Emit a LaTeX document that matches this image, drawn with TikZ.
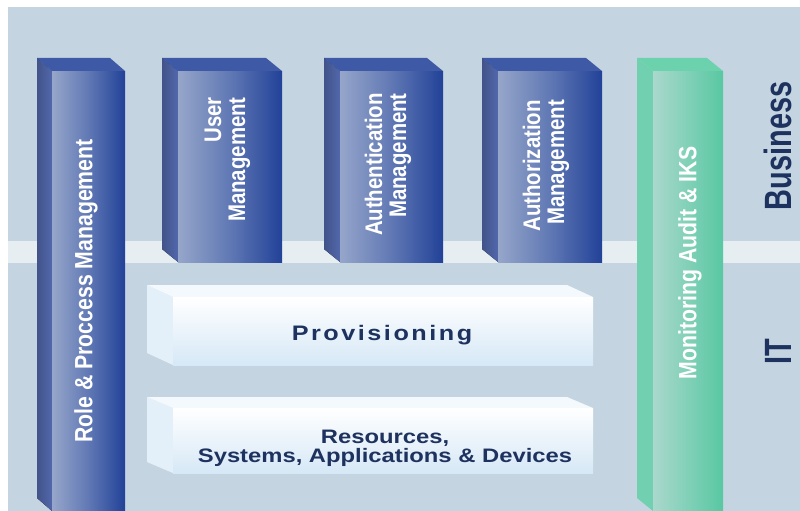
\documentclass[tikz,border=0pt]{standalone}
\usepackage{fontspec}
\setmainfont{Liberation Sans}
\newfontfamily\tallfont[FakeStretch=0.85]{Liberation Sans}
\newfontfamily\layerfont[FakeStretch=0.76]{Liberation Sans}
\newfontfamily\widefont[FakeStretch=1.22]{Liberation Sans}
\newfontfamily\spacedfont[FakeStretch=1.2,LetterSpace=12]{Liberation Sans}

\definecolor{bgblue}{RGB}{196,213,225}
\definecolor{bandwhite}{RGB}{230,238,242}
\definecolor{navy}{RGB}{30,50,95}
\definecolor{pillarlight}{RGB}{150,166,202}
\definecolor{pillarmid}{RGB}{96,120,180}
\definecolor{pillardark}{RGB}{34,66,152}
\definecolor{pillarside}{RGB}{82,104,172}
\definecolor{pillartop}{RGB}{62,90,166}
\definecolor{mintlight}{RGB}{170,216,204}
\definecolor{mintdark}{RGB}{88,200,162}
\definecolor{mintside}{RGB}{112,208,176}
\definecolor{minttop}{RGB}{108,210,174}
\definecolor{slabblue}{RGB}{214,232,246}
\definecolor{slabside}{RGB}{228,240,249}

% 3D block: front top-left (#1,#2), front bottom-right (#3,#4), depth (#5,#6), colour scheme #7
\newcommand{\drawblock}[7]{%
    \fill[#7 side] (#1,#2) -- ++(-#5,-#6) -- (#1-#5,#4-#6) -- (#1,#4) -- cycle;
    \fill[#7 top] (#1,#2) -- ++(-#5,-#6) -- (#3-#5,#2-#6) -- (#3,#2) -- cycle;
    \fill[#7 front] (#1,#2) rectangle (#3,#4);
}

\begin{document}
\begin{tikzpicture}[x=1pt, y=-1pt,
        blue front/.style={left color=pillarlight, right color=pillardark, middle color=pillarmid},
        blue side/.style={left color=pillarside!80!black, right color=pillarside},
        blue top/.style={fill=pillartop},
        mint front/.style={left color=mintlight, right color=mintdark},
        mint side/.style={fill=mintside},
        mint top/.style={fill=minttop},
        slab front/.style={top color=white, bottom color=slabblue},
        slab side/.style={fill=slabside},
        slab top/.style={fill=white!60!slabside},
        pillar label/.style={rotate=90, text=white, inner sep=0pt, align=right,
            font=\tallfont\bfseries\fontsize{24}{24}\selectfont},
        layer label/.style={rotate=90, text=navy, inner sep=0pt,
            font=\layerfont\bfseries\fontsize{38}{38}\selectfont},
        slab label/.style={text=navy, inner sep=0pt, align=center,
            font=\widefont\bfseries\fontsize{19.5}{19}\selectfont}
    ]
    \useasboundingbox (0,0) rectangle (800,511);

    % background and the band between the two layers
    \fill[white] (0,0) rectangle (800,511);
    \fill[bgblue] (8,7) rectangle (800,511);
    \fill[bandwhite] (8,241) rectangle (800,263);

    % pillars
    \drawblock{52}{71}{125}{511}{15}{13}{blue}
    \drawblock{178}{71}{282}{262}{16}{13}{blue}
    \drawblock{340}{71}{443}{262}{16}{13}{blue}
    \drawblock{498}{71}{602}{262}{16}{13}{blue}
    \drawblock{653}{71}{723}{511}{16}{13}{mint}

    % horizontal slabs
    \drawblock{173}{297}{593}{365}{26}{12}{slab}
    \drawblock{173}{408}{593}{473}{26}{11}{slab}

    % pillar texts
    \node (role) [pillar label, font=\tallfont\bfseries\fontsize{25}{25}\selectfont] at (86,291) {Role \& Proccess Management};
    \node (user) [pillar label, anchor=east] at (227.5,97) {User\\Management};
    \node (authn) [pillar label, anchor=east] at (388,93) {Authentication\\Management};
    \node (authz) [pillar label, anchor=east] at (546,100) {Authorization\\Management};
    \node (monitor) [pillar label, font=\tallfont\bfseries\fontsize{25}{25}\selectfont] at (690,263) {Monitoring Audit \& IKS};

    % slab texts
    \node (prov) [slab label, font=\spacedfont\bfseries\fontsize{21}{21}\selectfont] at (382,335) {Provisioning};
    \node (res) [slab label] at (385,448) {Resources,\\Systems, Applications \& Devices};

    % layer names
    \node (business) [layer label] at (778,146) {Business};
    \node (it) [layer label] at (778,352) {IT};
\end{tikzpicture}
\end{document}
